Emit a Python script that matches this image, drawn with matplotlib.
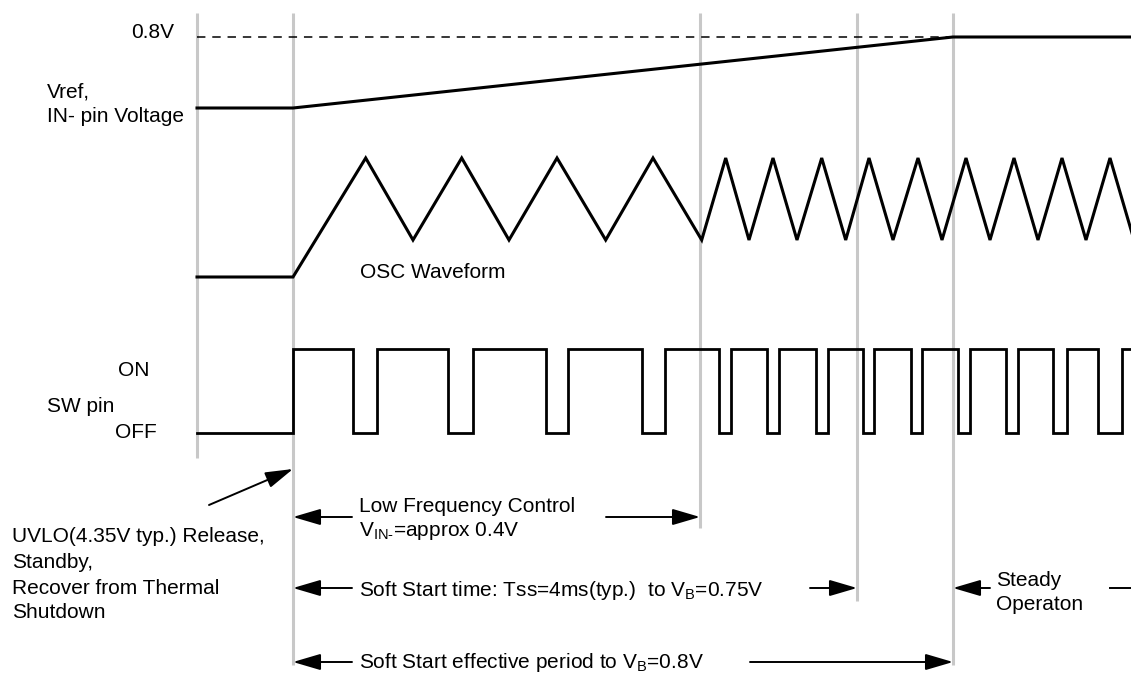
import matplotlib
matplotlib.use("Agg")
import matplotlib.pyplot as plt

plt.rcParams['font.family'] = ['Liberation Sans', 'DejaVu Sans']
plt.rcParams['mathtext.fontset'] = 'custom'
plt.rcParams['mathtext.rm'] = 'Liberation Sans'
plt.rcParams['mathtext.it'] = 'Liberation Sans:italic'

# timing markers (x) and how far down each gray guide runs
marker_x = [197, 293, 700, 857, 953]
marker_bottom = [458, 665, 528, 601, 665]
guide_top = 13

# Vref / IN- pin voltage levels
vref_x = [197, 293, 953, 1131]
vref_y = [108, 108, 37, 37]
vref_08_y = 37

# OSC waveform: flat start, then alternating peak / trough
osc_start = [(197, 277), (293, 277)]
osc_turns = [365.7, 413, 461.7, 509, 557, 605.7, 653, 701.7,
             725.7, 749, 773, 797, 821.7, 845.7, 869, 893, 918, 942,
             966, 990, 1014, 1038, 1062, 1086, 1110, 1134]
osc_peak, osc_trough = 158, 240

# SW pin: toggle edges (starts OFF)
sw_edges = [293, 352.7, 376.7, 448.3, 472.7, 545.7, 568.3, 641.7, 665,
            719.3, 730.7, 767.3, 779, 816, 827.7, 862.7, 874.3, 911, 922.3,
            958.3, 970, 1005.7, 1018.3, 1053.3, 1066.7, 1098.3, 1121.7]
sw_on, sw_off = 349, 433

W, H = 1131, 680
fig = plt.figure(figsize=(W / 100, H / 100), dpi=100)
ax = fig.add_axes([0, 0, 1, 1])
ax.set_xlim(0, W)
ax.set_ylim(H, 0)
ax.axis('off')

fs = 15
black = dict(color='black', lw=2.2, solid_joinstyle='miter', zorder=3)

# gray guides
for x, yb in zip(marker_x, marker_bottom):
    ax.plot([x, x], [guide_top, yb], color='#c8c8c8', lw=2.2, zorder=1,
            solid_capstyle='butt')

# 0.8V dashed reference
ax.plot([197, W], [vref_08_y, vref_08_y], color='black', lw=1.1,
        linestyle=(0, (5.5, 4.5)), zorder=2)
ax.plot(vref_x, vref_y, **black)

# OSC
ox = [p[0] for p in osc_start] + osc_turns
oy = [p[1] for p in osc_start] + [osc_peak if i % 2 == 0 else osc_trough
                                  for i in range(len(osc_turns))]
ax.plot(ox, oy, **black)

# SW pin
sx, sy = [197], [sw_off]
level = sw_off
for e in sw_edges:
    sx += [e, e]
    new = sw_on if level == sw_off else sw_off
    sy += [level, new]
    level = new
sx.append(W)
sy.append(level)
ax.plot(sx, sy, color='black', lw=2.0, solid_joinstyle='miter', zorder=3)

# labels
ax.text(174, 33, '0.8V', fontsize=fs, ha='right', va='center')
ax.text(47, 92, 'Vref,', fontsize=fs, ha='left', va='center')
ax.text(47, 116, 'IN- pin Voltage', fontsize=fs, ha='left', va='center')
ax.text(360, 272, 'OSC Waveform', fontsize=fs, ha='left', va='center')
ax.text(47, 406, 'SW pin', fontsize=fs, ha='left', va='center')
ax.text(118, 370, 'ON', fontsize=fs, ha='left', va='center')
ax.text(115, 433, 'OFF', fontsize=fs, ha='left', va='center')

uvlo_lines = ['UVLO(4.35V typ.) Release,', 'Standby,',
              'Recover from Thermal', 'Shutdown']
for txt, y in zip(uvlo_lines, [536, 562, 588, 612]):
    ax.text(12, y, txt, fontsize=fs, ha='left', va='center')

ax.text(359, 507, 'Low Frequency Control', fontsize=fs, ha='left', va='center')
ax.text(359, 531, 'V$_{\\mathrm{IN\u2010}}$=approx 0.4V', fontsize=fs,
        ha='left', va='center')
ax.text(359, 590, r'Soft Start time: Tss=4ms(typ.)  to V$_{\mathrm{B}}$=0.75V',
        fontsize=fs, ha='left', va='center')
ax.text(359, 663, r'Soft Start effective period to V$_{\mathrm{B}}$=0.8V',
        fontsize=fs, ha='left', va='center')
ax.text(996, 580, 'Steady', fontsize=fs, ha='left', va='center')
ax.text(996, 604, 'Operaton', fontsize=fs, ha='left', va='center')

# arrows: (tail, head)
arrows = [
    ((209, 505), (293, 469)),
    ((352, 517), (293, 517)),
    ((606, 517), (700, 517)),
    ((352, 588), (293, 588)),
    ((810, 588), (857, 588)),
    ((990, 588), (953, 588)),
    ((352, 662), (293, 662)),
    ((750, 662), (953, 662)),
]
style = '-|>,head_length=0.85,head_width=0.25'
for tail, head in arrows:
    ax.annotate('', xy=head, xytext=tail,
                arrowprops=dict(arrowstyle=style, lw=1.4, color='black',
                                mutation_scale=20, shrinkA=0, shrinkB=0),
                zorder=4)
# tail of the arrow running off to the right
ax.plot([1110, W], [588, 588], color='black', lw=1.4)

fig.savefig('out.png', dpi=100)
